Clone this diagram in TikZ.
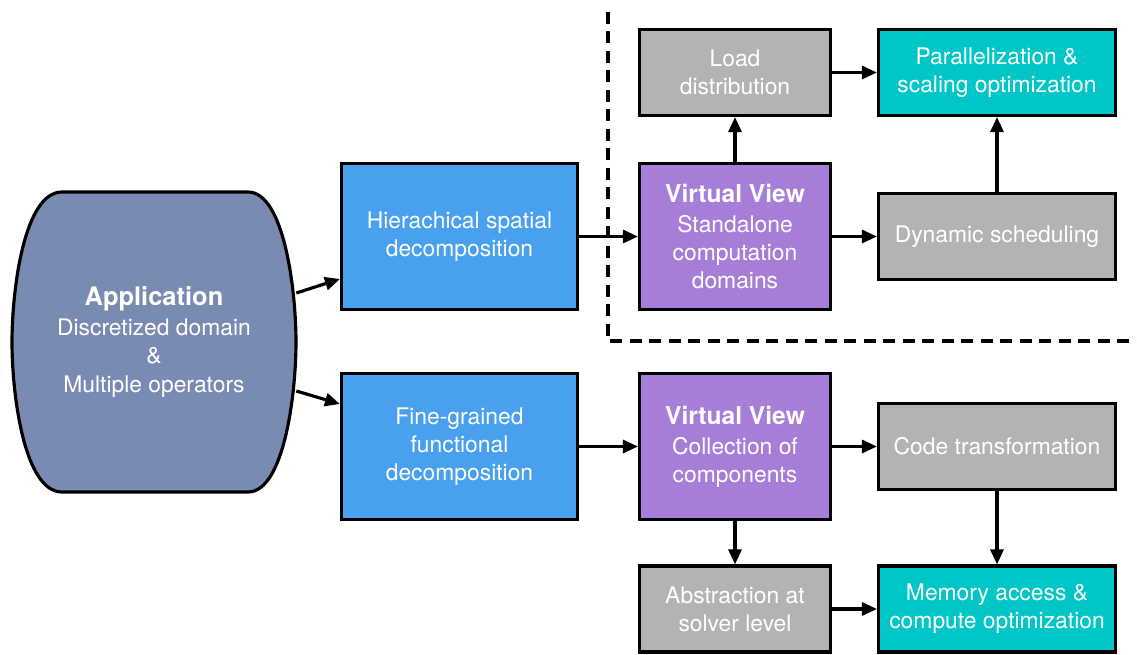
\documentclass[tikz,border=0pt]{standalone}
\usepackage{fontspec}
\setmainfont{TeX Gyre Heros}
\usetikzlibrary{arrows.meta}

\definecolor{appgris}{RGB}{122,139,179}
\definecolor{azul}{RGB}{73,160,239}
\definecolor{morado}{RGB}{166,126,216}
\definecolor{gris}{RGB}{179,179,179}
\definecolor{turquesa}{RGB}{0,198,200}

\begin{document}
\begin{tikzpicture}[x=0.02cm,y=-0.02cm,
	caja/.style={draw=black,line width=1.8pt,text=white,align=center,inner sep=0pt,
		font=\fontsize{13}{16}\selectfont},
	grande/.style={caja,minimum width=4.72cm,minimum height=2.92cm},
	media/.style={caja,minimum width=3.82cm,minimum height=2.92cm},
	chica/.style={caja,minimum width=3.82cm,minimum height=1.72cm},
	larga/.style={caja,minimum width=4.74cm,minimum height=1.72cm},
	flecha/.style={-{Triangle[length=0.3cm,width=0.26cm]},line width=1.8pt}]
	
	%Marco de la figura
	\useasboundingbox (0,0) rectangle (1137,655);
	
	%La aplicacion
	\filldraw[fill=appgris,draw=black,line width=1.8pt]
	(62,192) -- (248,192) .. controls (284,192) and (296,290) .. (296,342)
	.. controls (296,394) and (284,492) .. (248,492) -- (62,492)
	.. controls (24,492) and (12,394) .. (12,342)
	.. controls (12,290) and (24,192) .. (62,192) -- cycle;
	\node[text=white,align=center,inner sep=0pt,minimum width=5.68cm,
		font=\fontsize{13}{16}\selectfont] (app) at (154,342)
		{{\fontsize{14.5}{18}\selectfont\bfseries Application}\\[1pt]
		Discretized domain\\ \&\\ Multiple operators};
	
	%Descomposiciones
	\node[grande,fill=azul] (hsd) at (459.5,236.5) {Hierachical spatial\\ decomposition};
	\node[grande,fill=azul] (fgd) at (459.5,446.5) {Fine-grained\\ functional\\ decomposition};
	
	%Vistas virtuales
	\node[media,fill=morado] (vv1) at (735,236.5)
		{{\fontsize{14}{18}\selectfont\bfseries Virtual View}\\[1pt] Standalone\\ computation\\ domains};
	\node[media,fill=morado] (vv2) at (735,446.5)
		{{\fontsize{14}{18}\selectfont\bfseries Virtual View}\\[1pt] Collection of\\ components};
	
	%Arriba
	\node[chica,fill=gris] (load) at (735,72.5) {Load\\ distribution};
	\node[larga,fill=turquesa] (par) at (997,72.5) {Parallelization \&\\ scaling optimization};
	\node[larga,fill=gris] (dyn) at (997,236.5) {Dynamic scheduling};
	
	%Abajo
	\node[larga,fill=gris] (code) at (997,446.5) {Code transformation};
	\node[chica,fill=gris] (abs) at (735,609) {Abstraction at\\ solver level};
	\node[larga,fill=turquesa] (mem) at (997,609) {Memory access \&\\ compute optimization};
	
	%Flechas
	\draw[flecha] ([yshift=0.98cm]app.east) -- ([yshift=-0.85cm]hsd.west);
	\draw[flecha] ([yshift=-0.98cm]app.east) -- ([yshift=0.85cm]fgd.west);
	\draw[flecha] (hsd) -- (vv1);
	\draw[flecha] (fgd) -- (vv2);
	\draw[flecha] (vv1) -- (load);
	\draw[flecha] (vv1) -- (dyn);
	\draw[flecha] (load) -- (par);
	\draw[flecha] (dyn) -- (par);
	\draw[flecha] (vv2) -- (code);
	\draw[flecha] (vv2) -- (abs);
	\draw[flecha] (code) -- (mem);
	\draw[flecha] (abs) -- (mem);
	
	%Linea punteada
	\draw[line width=1.8pt,dash pattern=on 0.24cm off 0.15cm] (608,12) -- (608,341) -- (1140,341);
	
\end{tikzpicture}
\end{document}
